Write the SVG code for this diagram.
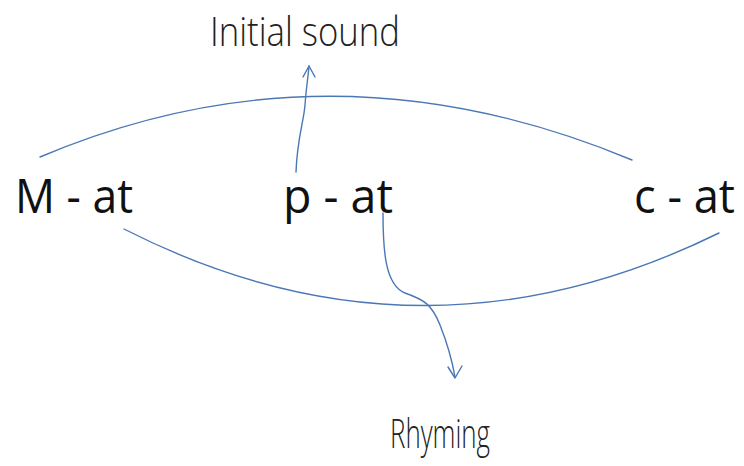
<svg xmlns="http://www.w3.org/2000/svg" width="744" height="466" viewBox="0 0 744 466">
<style>
.big{font-family:"Open Sans","DejaVu Sans",sans-serif;font-size:47px;fill:#111;}
.lbl{font-family:"Open Sans","DejaVu Sans",sans-serif;font-weight:300;font-size:41px;fill:#222;}
.ln{fill:none;stroke:#4a78b5;stroke-width:1.4;stroke-linecap:round;stroke-linejoin:round;}
</style>
<rect width="744" height="466" fill="#fff"/>
<g id="connectors">
<path class="ln" d="M40,157 Q330,34 632,160"/>
<path class="ln" d="M124,229 Q420,380 719,233"/>
<path class="ln" d="M296,172 C297,140 304,120 305,105 C306,90 308,78 309,66"/>
<path class="ln" d="M303,77 L309,66 L315,77"/>
<path class="ln" d="M383,213 C383,250 385,285 405,293 C425,300 432,305 440,325 C448,345 452,360 455,377"/>
<path class="ln" d="M448,367 L455,378 L462,366"/>
</g>
<g id="initial-sound"><text class="lbl" x="210" y="46" textLength="190" lengthAdjust="spacingAndGlyphs">Initial sound</text></g>
<g id="m-at"><text class="big" x="15" y="213" textLength="118" lengthAdjust="spacingAndGlyphs">M - at</text></g>
<g id="p-at"><text class="big" x="283" y="213" textLength="110" lengthAdjust="spacingAndGlyphs">p - at</text></g>
<g id="c-at"><text class="big" x="634" y="213" textLength="101" lengthAdjust="spacingAndGlyphs">c - at</text></g>
<g id="rhyming"><text class="lbl" x="390" y="448" textLength="100" lengthAdjust="spacingAndGlyphs">Rhyming</text></g>
</svg>
